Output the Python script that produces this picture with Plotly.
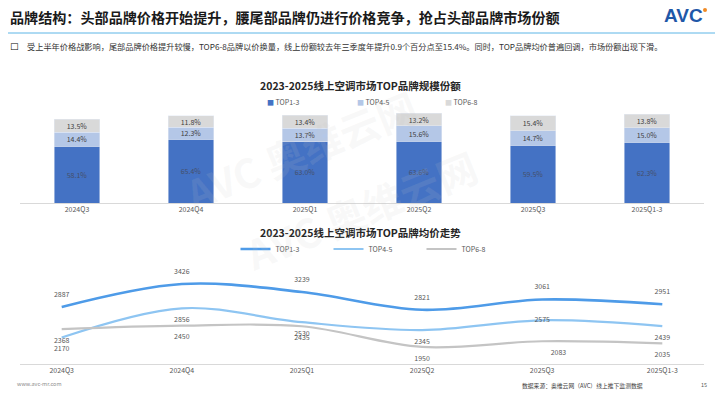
import plotly.graph_objects as go

quarters = ["2024Q3", "2024Q4", "2025Q1", "2025Q2", "2025Q3", "2025Q1-3"]
series_names = ["TOP1-3", "TOP4-5", "TOP6-8"]

share_top1_3 = [58.1, 65.4, 63.0, 63.6, 59.5, 62.3]
share_top4_5 = [14.4, 12.3, 13.7, 15.6, 14.7, 15.0]
share_top6_8 = [13.5, 11.8, 13.4, 13.2, 15.4, 13.8]

price_top1_3 = [2887, 3426, 3239, 2821, 3061, 2951]
price_top4_5 = [2170, 2856, 2530, 2345, 2575, 2439]
price_top6_8 = [2368, 2450, 2435, 1950, 2083, 2035]

FONT = "Noto Sans CJK SC, Noto Sans, sans-serif"
bar_colors = ["#4472C4", "#B4C7E7", "#D9D9D9"]
line_colors = ["#4E9BE8", "#8EC5F2", "#C4C4C4"]

fig = go.Figure()

# ---- stacked bars ----
for name, vals, col in zip(series_names, [share_top1_3, share_top4_5, share_top6_8], bar_colors):
    fig.add_trace(go.Bar(
        x=quarters, y=vals, name=name, marker_color=col, width=0.4,
        text=[f"{v:.1f}%" for v in vals], textposition="inside",
        insidetextanchor="middle", textangle=0, constraintext="none",
        textfont=dict(size=7, color="#44506a" if name == "TOP1-3" else "#404040", family=FONT),
        xaxis="x", yaxis="y", showlegend=False, hoverinfo="skip",
    ))

# ---- price lines ----
pos_top1_3 = ["top center"] * 6
pos_top4_5 = ["bottom center", "bottom center", "bottom center", "bottom center", "middle center", "bottom center"]
pos_top6_8 = ["bottom center", "bottom center", "bottom center", "bottom center", "bottom right", "bottom center"]
for name, vals, col, pos, w in zip(series_names, [price_top1_3, price_top4_5, price_top6_8],
                                   line_colors, [pos_top1_3, pos_top4_5, pos_top6_8], [2.6, 2.2, 2.2]):
    fig.add_trace(go.Scatter(
        x=quarters, y=vals, name=name, mode="lines+markers+text",
        line=dict(color=col, width=w, shape="spline", smoothing=1.0),
        marker=dict(size=12, color="rgba(0,0,0,0)", line=dict(width=0)),
        text=[str(v) for v in vals], textposition=pos,
        textfont=dict(size=7, color="#595959", family=FONT),
        xaxis="x2", yaxis="y2", legend="legend", cliponaxis=False, hoverinfo="skip",
    ))

H = 395.0
def py(px):
    return (H - px) / H

annotations = [
    dict(text="<b>品牌结构：头部品牌价格开始提升，腰尾部品牌仍进行价格竞争，抢占头部品牌市场份额</b>",
         x=8 / 720, y=py(17), xref="paper", yref="paper", xanchor="left", yanchor="middle",
         showarrow=False, font=dict(size=14.1, color="#1a1a1a", family=FONT)),
    dict(text="<b>AVC</b>", x=705 / 720, y=py(16), xref="paper", yref="paper",
         xanchor="right", yanchor="middle", showarrow=False,
         font=dict(size=19, color="#1f58a8", family="Liberation Sans, Arial")),
    dict(text="<b>□</b>", x=8 / 720, y=py(46), xref="paper", yref="paper", xanchor="left", yanchor="middle",
         showarrow=False, font=dict(size=9, color="#000000", family="DejaVu Sans")),
    dict(text="受上半年价格战影响，尾部品牌价格提升较慢，TOP6-8品牌以价换量，线上份额较去年三季度年提升0.9个百分点至15.4%。同时，TOP品牌均价普遍回调，市场份额出现下滑。",
         x=25 / 720, y=py(46), xref="paper", yref="paper", xanchor="left", yanchor="middle",
         showarrow=False, font=dict(size=8.2, color="#333333", family=FONT)),
    dict(text="<b>2023-2025线上空调市场TOP品牌规模份额</b>", x=0.5, y=py(85), xref="paper", yref="paper",
         xanchor="center", yanchor="middle", showarrow=False, font=dict(size=10.5, color="#262626", family=FONT)),
    dict(text="<b>2023-2025线上空调市场TOP品牌均价走势</b>", x=0.5, y=py(232), xref="paper", yref="paper",
         xanchor="center", yanchor="middle", showarrow=False, font=dict(size=10.5, color="#262626", family=FONT)),
    dict(text="www.avc-mr.com", x=15 / 720, y=py(384), xref="paper", yref="paper",
         xanchor="left", yanchor="middle", showarrow=False, font=dict(size=5.5, color="#8c8c8c", family=FONT)),
    dict(text="数据来源：奥维云网（AVC）线上推下监测数据", x=520 / 720, y=py(385), xref="paper", yref="paper",
         xanchor="left", yanchor="middle", showarrow=False, font=dict(size=5.8, color="#404040", family=FONT)),
    dict(text="15", x=704 / 720, y=py(385), xref="paper", yref="paper",
         xanchor="center", yanchor="middle", showarrow=False, font=dict(size=5.5, color="#595959", family=FONT)),
    # faint watermarks
    dict(text="<b>AVC 奥维云网</b>", x=300 / 720, y=py(150), xref="paper", yref="paper",
         showarrow=False, textangle=-22, font=dict(size=40, color="rgba(200,200,200,0.12)", family=FONT)),
    dict(text="<b>AVC 奥维云网</b>", x=360 / 720, y=py(285), xref="paper", yref="paper",
         showarrow=False, textangle=-22, font=dict(size=40, color="rgba(200,200,200,0.12)", family=FONT)),
]

# bar legend as coloured squares with text
legend_x = [265, 355, 443]
for name, col, lx in zip(series_names, bar_colors, legend_x):
    annotations.append(dict(
        text=f"<span style='color:{col}'>■</span> {name}", x=lx / 720, y=py(102),
        xref="paper", yref="paper", xanchor="left", yanchor="middle", showarrow=False,
        font=dict(size=7, color="#595959", family=FONT)))

shapes = [
    dict(type="line", xref="paper", yref="paper", x0=8 / 720, x1=715 / 720, y0=py(33), y1=py(33),
         line=dict(color="#5DB5E6", width=1)),
    dict(type="circle", xref="paper", yref="paper", x0=703 / 720, x1=707 / 720, y0=py(12), y1=py(8),
         fillcolor="#F08A24", line=dict(width=0)),
]

axis_common = dict(showgrid=False, zeroline=False, showline=True, linecolor="#D9D9D9", linewidth=1,
                   ticks="", tickfont=dict(size=7, color="#595959", family=FONT), fixedrange=True)

fig.update_layout(
    width=720, height=395, margin=dict(l=0, r=0, t=0, b=0),
    paper_bgcolor="white", plot_bgcolor="white",
    barmode="stack", bargap=0.6,
    font=dict(family=FONT),
    xaxis=dict(domain=[20 / 720, 704 / 720], anchor="y", **axis_common),
    yaxis=dict(domain=[py(203), py(105.7)], range=[0, 100], visible=False, anchor="x"),
    xaxis2=dict(domain=[20 / 720, 704 / 720], anchor="y2", **axis_common),
    yaxis2=dict(domain=[py(364), py(259.5)], range=[1550, 4000], visible=False, anchor="x2"),
    legend=dict(orientation="h", x=375 / 720, y=py(249), xanchor="center", yanchor="middle",
                traceorder="normal",
                font=dict(size=7, color="#595959", family=FONT), itemwidth=30,
                entrywidth=48, entrywidthmode="pixels", bgcolor="rgba(0,0,0,0)"),
    annotations=annotations, shapes=shapes,
)

fig.write_html("out.html", config={"displayModeBar": False, "staticPlot": True},
               post_script="document.body.style.margin='0px';document.body.style.overflow='hidden';")
